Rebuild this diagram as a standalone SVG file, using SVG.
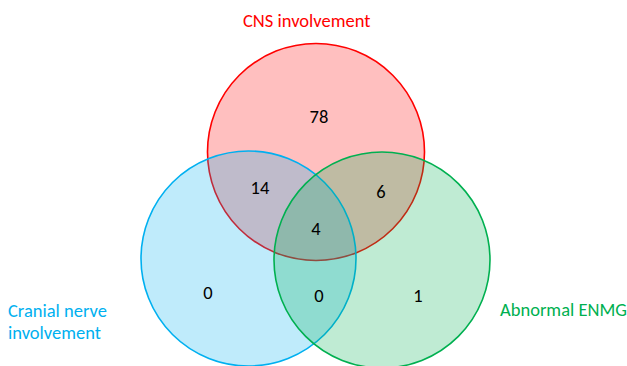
<svg xmlns="http://www.w3.org/2000/svg" width="627" height="366" viewBox="0 0 627 366">
<style>
.set{stroke-width:1.6}
.lbl{font-family:Carlito,Calibri,Lato,"Liberation Sans",sans-serif;font-size:18.5px}
.num{font-family:Carlito,Calibri,Lato,"Liberation Sans",sans-serif;font-size:18.5px;fill:#000;text-anchor:middle}
</style>
<rect width="627" height="366" fill="#fff"/>
<g id="cns">
<circle class="set" cx="316" cy="152" r="108.5" fill="#FF0000" fill-opacity="0.25" stroke="#FF0000"/>
</g>
<g id="cranial">
<circle class="set" cx="248.5" cy="258.5" r="107.5" fill="#00B0F0" fill-opacity="0.25" stroke="#00B0F0"/>
</g>
<g id="enmg">
<circle class="set" cx="382" cy="260" r="108" fill="#00B050" fill-opacity="0.25" stroke="#00B050"/>
</g>
<g id="labels">
<text class="lbl" x="243" y="27" fill="#FF0000">CNS involvement</text>
<text class="lbl" x="8" y="317" fill="#00B0F0">Cranial nerve</text>
<text class="lbl" x="8" y="339" fill="#00B0F0">involvement</text>
<text class="lbl" x="500" y="316" fill="#00B050">Abnormal ENMG</text>
</g>
<g id="counts">
<text class="num" x="319" y="123">78</text>
<text class="num" x="260" y="194">14</text>
<text class="num" x="381" y="198">6</text>
<text class="num" x="316" y="235">4</text>
<text class="num" x="208" y="299">0</text>
<text class="num" x="319" y="302">0</text>
<text class="num" x="418" y="302">1</text>
</g>
<g id="connectors"></g>
</svg>
